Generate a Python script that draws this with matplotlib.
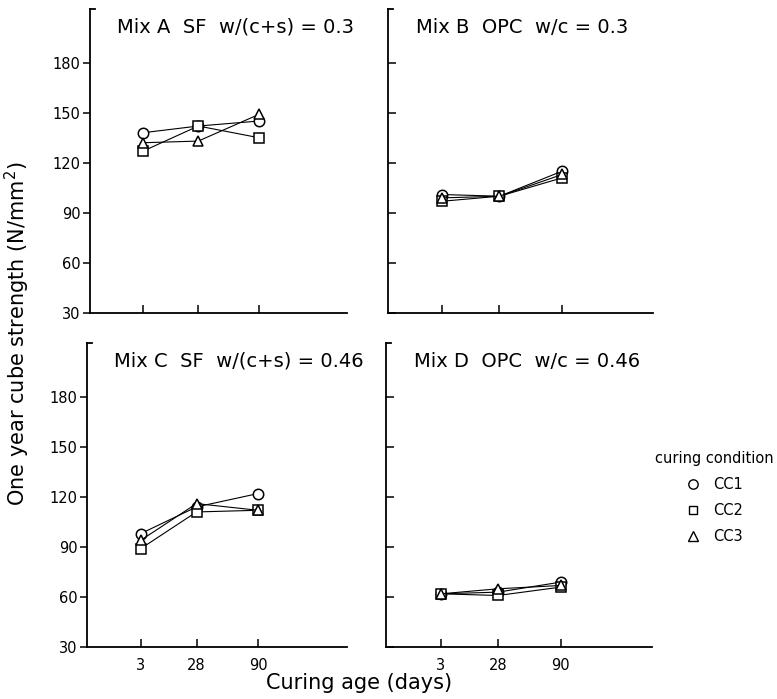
import numpy as np
import matplotlib
matplotlib.use("Agg")
import matplotlib.pyplot as plt
from matplotlib.lines import Line2D

# === DATA: one year cube strength (N/mm2) per curing age ===
ages = ["3", "28", "90"]
conditions = ["CC1", "CC2", "CC3"]
y_ticks = [30, 60, 90, 120, 150, 180]

mix_a_cc1 = [138, 142, 145]
mix_a_cc2 = [127, 142, 135]
mix_a_cc3 = [132, 133, 149]

mix_b_cc1 = [101, 100, 115]
mix_b_cc2 = [97, 100, 111]
mix_b_cc3 = [99, 100, 113]

mix_c_cc1 = [98, 114, 122]
mix_c_cc2 = [89, 111, 112]
mix_c_cc3 = [94, 116, 112]

mix_d_cc1 = [62, 63, 69]
mix_d_cc2 = [62, 61, 66]
mix_d_cc3 = [62, 65, 67]

titles = [
    "Mix A  SF  w/(c+s) = 0.3",
    "Mix B  OPC  w/c = 0.3",
    "Mix C  SF  w/(c+s) = 0.46",
    "Mix D  OPC  w/c = 0.46",
]

# === LAYOUT ===
age_pos = np.array([1.0, 2.0, 3.1])   # ages are not evenly spaced on the axis
markers = ["o", "s", "^"]
msizes = [7.5, 7, 7.5]

fig = plt.figure(figsize=(7.77, 6.99), dpi=100)
axes_rects = [
    (0.116, 0.552, 0.331, 0.435),
    (0.499, 0.552, 0.342, 0.435),
    (0.112, 0.074, 0.335, 0.435),
    (0.497, 0.074, 0.342, 0.435),
]
panels = [
    [mix_a_cc1, mix_a_cc2, mix_a_cc3],
    [mix_b_cc1, mix_b_cc2, mix_b_cc3],
    [mix_c_cc1, mix_c_cc2, mix_c_cc3],
    [mix_d_cc1, mix_d_cc2, mix_d_cc3],
]

for i, (rect, series, title) in enumerate(zip(axes_rects, panels, titles)):
    ax = fig.add_axes(rect)
    for vals, mk, ms in zip(series, markers, msizes):
        ax.plot(age_pos, vals, color="black", lw=0.8, marker=mk, ms=ms,
                mfc="white", mec="black", mew=1.1)

    ax.set_xlim(0.04, 4.7)
    ax.set_ylim(30, 212)
    for side in ("top", "right"):
        ax.spines[side].set_visible(False)
    for side in ("left", "bottom"):
        ax.spines[side].set_linewidth(1.3)
    # small hook at the top of the y axis
    ax.plot([0, 0.018], [1, 1], color="black", lw=1.3,
            transform=ax.transAxes, clip_on=False)

    ax.set_xticks(age_pos)
    ax.set_yticks(y_ticks)
    ax.tick_params(axis="x", direction="in", length=6, width=1.1, pad=8,
                   labelsize=10.5)
    left_col = i in (0, 2)
    if left_col:
        ax.tick_params(axis="y", direction="out", length=5, width=1.1,
                       pad=2, labelsize=10.5)
        ax.set_yticklabels([str(t) for t in y_ticks])
    else:
        ax.tick_params(axis="y", direction="in", length=6, width=1.1,
                       labelleft=False)
    if i >= 2:
        ax.set_xticklabels(ages)
    else:
        ax.set_xticklabels([])

    ax.text(0.105, 0.94, title, transform=ax.transAxes, fontsize=14,
            ha="left", va="center")

fig.text(0.023, 0.523, "One year cube strength (N/mm$^2$)", rotation=90,
         ha="center", va="center", fontsize=15)
fig.text(0.462, 0.023, "Curing age (days)", ha="center", va="center",
         fontsize=15)

handles = [Line2D([], [], ls="none", marker=mk, ms=ms * 0.9, mfc="white",
                  mec="black", mew=1.0)
           for mk, ms in zip(markers, msizes)]
fig.legend(handles, conditions, loc="center", bbox_to_anchor=(0.919, 0.288),
           frameon=False, title="curing condition", title_fontsize=10.5,
           fontsize=10.5, handlelength=1.0, handletextpad=0.9,
           labelspacing=0.75)

fig.savefig("out.png", dpi=100)
